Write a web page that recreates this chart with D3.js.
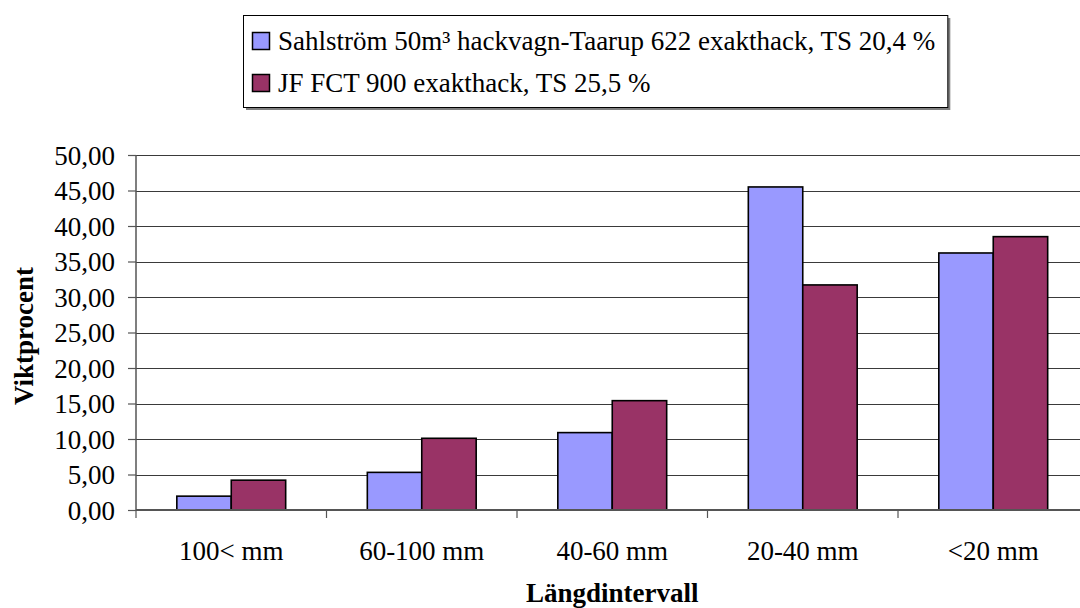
<!DOCTYPE html>
<html>
<head>
<meta charset="utf-8">
<script src="https://cdn.jsdelivr.net/npm/d3@7"></script>
<style>
  html, body { margin: 0; padding: 0; background: #fff; }
  svg { display: block; }
</style>
</head>
<body>
<svg id="chart" width="1080" height="608"></svg>
<script>
// Length intervals and weight percentages per harvesting method
const categories = ["100< mm", "60-100 mm", "40-60 mm", "20-40 mm", "<20 mm"];
const seriesNames = [
  "Sahlström 50m³ hackvagn-Taarup 622 exakthack, TS 20,4 %",
  "JF FCT 900 exakthack, TS 25,5 %"
];
const sahlstromValues = [1.95, 5.3, 10.9, 45.5, 36.2];
const jfValues = [4.2, 10.1, 15.4, 31.7, 38.5];
const yTicks = [0, 5, 10, 15, 20, 25, 30, 35, 40, 45, 50];
const seriesColors = ["#9999FF", "#993366"];

const yTitle = "Viktprocent";
const xTitle = "Längdintervall";

const FONT = "Liberation Serif, Times New Roman, DejaVu Serif, serif";
const FS = 27;

const svg = d3.select("#chart").style("font-family", FONT);

const plot = { left: 136, right: 1088.5, top: 155, bottom: 510 };

const x = d3.scaleBand()
  .domain(categories)
  .range([plot.left, plot.right])
  .paddingInner(0).paddingOuter(0);

const xSub = d3.scaleBand()
  .domain(d3.range(seriesNames.length))
  .range([0, x.bandwidth()])
  .paddingInner(0).paddingOuter(0.75);

const y = d3.scaleLinear().domain([0, 50]).range([plot.bottom, plot.top]);

const fmt = v => d3.format(".2f")(v).replace(".", ",");

// Horizontal gridlines
svg.append("g")
  .selectAll("line")
  .data(yTicks.filter(d => d > 0))
  .join("line")
  .attr("x1", plot.left).attr("x2", plot.right)
  .attr("y1", d => Math.round(y(d)) + 0.5).attr("y2", d => Math.round(y(d)) + 0.5)
  .attr("stroke", "#3a3a3a").attr("stroke-width", 1);

// Bars
const seriesData = [sahlstromValues, jfValues];
const groups = svg.append("g")
  .selectAll("g")
  .data(seriesData)
  .join("g")
  .attr("fill", (d, i) => seriesColors[i]);

groups.each(function(values, si) {
  d3.select(this).selectAll("rect")
    .data(values.map((v, ci) => ({ v, c: categories[ci] })))
    .join("rect")
    .attr("x", d => x(d.c) + xSub(si))
    .attr("y", d => y(d.v))
    .attr("width", xSub.bandwidth())
    .attr("height", d => y(0) - y(d.v))
    .attr("stroke", "#000")
    .attr("stroke-width", 1.6);
});

// Y axis
const yAxis = d3.axisLeft(y)
  .tickValues(yTicks)
  .tickFormat(fmt)
  .tickSize(8)
  .tickPadding(13);

const yG = svg.append("g")
  .attr("transform", `translate(${plot.left},0)`)
  .call(yAxis);
yG.attr("font-family", null).attr("font-size", FS);
yG.select(".domain").attr("stroke", "#555").attr("stroke-width", 1.5)
  .attr("d", `M0,${plot.top}V${plot.bottom}`);
yG.selectAll(".tick line").attr("stroke", "#555").attr("stroke-width", 1.2);
yG.selectAll(".tick text").attr("fill", "#000").attr("dy", "0.34em")
  .style("font-family", FONT);

// X axis with category boundary ticks
const xG = svg.append("g").attr("transform", `translate(0,${plot.bottom})`);
xG.append("line")
  .attr("x1", plot.left).attr("x2", plot.right)
  .attr("y1", 0).attr("y2", 0)
  .attr("stroke", "#555").attr("stroke-width", 2);
xG.selectAll(".bt")
  .data(categories)
  .join("line")
  .attr("class", "bt")
  .attr("x1", d => x(d)).attr("x2", d => x(d))
  .attr("y1", 0).attr("y2", 8)
  .attr("stroke", "#555").attr("stroke-width", 1.2);
xG.selectAll("text")
  .data(categories)
  .join("text")
  .attr("x", d => x(d) + x.bandwidth() / 2)
  .attr("y", 50)
  .attr("text-anchor", "middle")
  .attr("font-size", FS)
  .text(d => d);

// Axis titles
svg.append("text")
  .attr("transform", `translate(33,336) rotate(-90)`)
  .attr("text-anchor", "middle")
  .attr("font-size", FS)
  .attr("font-weight", "bold")
  .text(yTitle);

svg.append("text")
  .attr("x", (plot.left + plot.right) / 2).attr("y", 602)
  .attr("text-anchor", "middle")
  .attr("font-size", FS)
  .attr("font-weight", "bold")
  .text(xTitle);

// Legend with a thin drop shadow
const legend = svg.append("g");
const shadow = legend.append("rect").attr("fill", "#808080");
const box = legend.append("rect")
  .attr("fill", "#fff").attr("stroke", "#000").attr("stroke-width", 1);
const items = legend.selectAll(".item")
  .data(seriesNames)
  .join("g")
  .attr("class", "item")
  .attr("transform", (d, i) => `translate(252,${50 + i * 42})`);
items.append("rect")
  .attr("x", 0.5).attr("y", -17.5)
  .attr("width", 17).attr("height", 17)
  .attr("fill", (d, i) => seriesColors[i])
  .attr("stroke", "#000").attr("stroke-width", 1.5);
const labels = items.append("text")
  .attr("x", 26).attr("y", 0)
  .attr("font-size", FS)
  .text(d => d);
const maxW = d3.max(labels.nodes(), n => n.getComputedTextLength());
const boxW = 252 + 26 + maxW + 12 - 243;
box.attr("x", 243.5).attr("y", 15.5).attr("width", boxW).attr("height", 92);
shadow.attr("x", 246).attr("y", 18).attr("width", boxW).attr("height", 92);
</script>
</body>
</html>
